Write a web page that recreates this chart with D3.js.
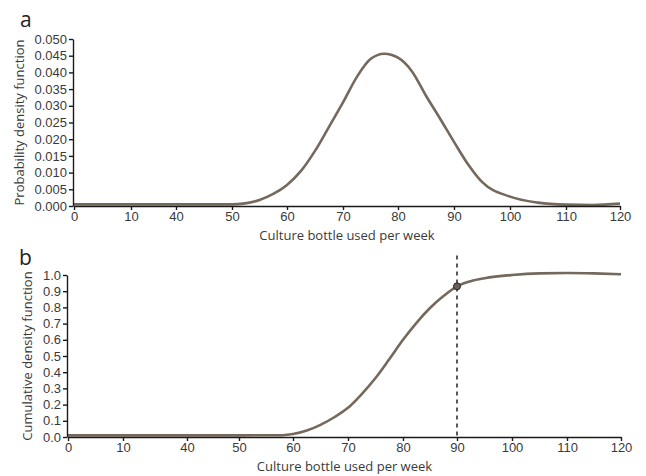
<!DOCTYPE html>
<html>
<head>
<meta charset="utf-8">
<script src="https://cdn.jsdelivr.net/npm/d3@7"></script>
<style>
  body { margin: 0; background: #fff; }
  svg { display: block; font-family: "Open Sans", sans-serif; }
  .tick text { fill: #3a3a3a; font-size: 13px; }
  .axis path, .axis line { stroke: #1a1a1a; stroke-width: 1.4; }
  .axis-label { fill: #3a3a3a; font-size: 13px; }
  .panel-label { fill: #222; font-size: 21px; }
</style>
</head>
<body>
<svg id="chart"></svg>
<script>
// data
const xTicks = [0, 10, 40, 50, 60, 70, 80, 90, 100, 110, 120];

const pdfX = [0, 10, 40, 50, 52, 55, 57.5, 60, 62.5, 65, 67.5, 70, 72.5, 75, 77.5, 80, 82.5, 85, 87.5, 90, 92.5, 95, 100, 105, 110, 115, 120];
const pdfY = [0.0005, 0.0005, 0.0005, 0.0005, 0.0007, 0.0018, 0.0036, 0.0063, 0.0105, 0.0165, 0.0237, 0.031, 0.0386, 0.0440, 0.0456, 0.0444, 0.0403, 0.033, 0.0262, 0.0192, 0.0125, 0.0072, 0.0028, 0.001, 0.0004, 0.0003, 0.0007];

const cdfX = [0, 10, 40, 50, 58, 60, 62.5, 65, 67.5, 70, 72.5, 75, 77.5, 80, 82.5, 85, 87.5, 90, 92.5, 95, 100, 105, 110, 115, 120];
const cdfY = [0.01, 0.01, 0.01, 0.01, 0.011, 0.018, 0.04, 0.075, 0.122, 0.18, 0.265, 0.364, 0.48, 0.6, 0.705, 0.796, 0.87, 0.93, 0.962, 0.98, 1.0, 1.01, 1.012, 1.01, 1.005];

const markX = 90;
const markY = 0.93;

const pdfTicks = d3.range(0, 0.0501, 0.005);
const cdfTicks = d3.range(0, 1.01, 0.1);

const lineColor = "#75685c";

const W = 646, H = 476;
const svg = d3.select("#chart").attr("width", W).attr("height", H);

function drawPanel(p) {
  // x axis is not linear (0, 10, 40, 50 ...), so a piecewise scale on the tick positions
  const x = d3.scaleLinear().domain(xTicks).range(p.xPos);
  const y = d3.scaleLinear().domain(p.yDomain).range([p.bottom, p.top]);

  const line = d3.line()
    .x(d => x(d[0]))
    .y(d => y(d[1]))
    .curve(d3.curveMonotoneX);

  svg.append("path")
    .datum(p.xs.map((v, i) => [v, p.ys[i]]))
    .attr("fill", "none")
    .attr("stroke", lineColor)
    .attr("stroke-width", 2.6)
    .attr("d", line);

  svg.append("g")
    .attr("class", "axis")
    .attr("transform", `translate(0,${p.bottom})`)
    .call(d3.axisBottom(x).tickValues(xTicks).tickSize(4).tickSizeOuter(0).tickPadding(2).tickFormat(d3.format("d")));

  svg.append("g")
    .attr("class", "axis")
    .attr("transform", `translate(${p.xPos[0] - 1},0)`)
    .call(d3.axisLeft(y).tickValues(p.yTicks).tickSize(4).tickSizeOuter(0).tickPadding(2).tickFormat(p.fmt));

  svg.append("text")
    .attr("class", "axis-label")
    .attr("x", (p.xPos[0] + p.xPos[p.xPos.length - 1]) / 2)
    .attr("y", p.bottom + 34)
    .attr("text-anchor", "middle")
    .text("Culture bottle used per week");

  svg.append("text")
    .attr("class", "axis-label")
    .attr("transform", `translate(${p.yLabelX},${(p.top + p.bottom) / 2}) rotate(-90)`)
    .attr("text-anchor", "middle")
    .attr("dy", "0.35em")
    .text(p.yLabel);

  svg.append("text")
    .attr("class", "panel-label")
    .attr("x", p.tagX)
    .attr("y", p.tagY)
    .text(p.tag);

  return { x, y };
}

drawPanel({
  xPos: [74, 131, 176, 232, 287, 343, 398, 454, 510, 566, 620],
  top: 39, bottom: 206,
  xs: pdfX, ys: pdfY, yDomain: [0, 0.05], yTicks: pdfTicks,
  fmt: d3.format(".3f"), yLabel: "Probability density function",
  yLabelX: 19, tag: "a", tagX: 20, tagY: 27
});

const b = drawPanel({
  xPos: [68, 123, 187, 239, 293, 348, 403, 457, 512, 567, 621],
  top: 275, bottom: 437,
  xs: cdfX, ys: cdfY, yDomain: [0, 1], yTicks: cdfTicks,
  fmt: d3.format(".1f"), yLabel: "Cumulative density function",
  yLabelX: 27, tag: "b", tagX: 19, tagY: 265
});

// dashed marker at 90 and the point on the curve
svg.append("line")
  .attr("x1", b.x(markX)).attr("x2", b.x(markX))
  .attr("y1", b.y(1.12)).attr("y2", b.y(0))
  .attr("stroke", "#111")
  .attr("stroke-width", 1.4)
  .attr("stroke-dasharray", "4,4");

svg.append("circle")
  .attr("cx", b.x(markX))
  .attr("cy", b.y(markY))
  .attr("r", 3.5)
  .attr("fill", "#6b5f55")
  .attr("stroke", "#222")
  .attr("stroke-width", 1);
</script>
</body>
</html>
